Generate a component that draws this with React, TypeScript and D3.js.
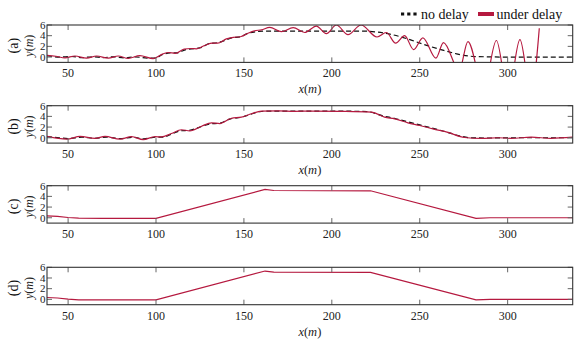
import React from 'react';
import * as d3 from 'd3';

const W = 580;
const H = 343;

// shared axis settings
const xDomain: [number, number] = [38, 337];
const yDomain: [number, number] = [-1, 6];
const xTicks = [50, 100, 150, 200, 250, 300];
const yTicks = [0, 2, 4, 6];
const panelNames = ['(a)', '(b)', '(c)', '(d)'];
const legendLabels = ['no delay', 'under delay'];

type Pt = [number, number];

// (a) no delay
const aNoDelay: Pt[] = [
  [38, 0.25], [45, 0.0], [52, 0.1], [58, -0.1], [64, 0.05], [70, -0.1], [76, 0.05],
  [82, -0.15], [88, 0.05], [95, -0.2], [99, -0.2], [104, 0.5], [108, 0.8], [112, 0.8],
  [117, 1.4], [122, 1.6], [126, 1.8], [130, 2.5], [135, 2.7], [139, 3.1], [143, 3.6],
  [148, 3.8], [152, 4.4], [157, 4.75], [162, 4.85], [170, 4.85], [190, 4.85], [210, 4.85],
  [219, 4.85], [225, 4.7], [233, 4.3], [243, 3.4], [252, 2.4], [262, 1.4], [271, 0.6],
  [279, 0.15], [287, 0.05], [300, 0.0], [337, 0.0],
];

// (a) under delay
const aUnderDelay: Pt[] = [
  [38, 0.3], [43, 0.15], [48.2, -0.15], [53.9, 0.2], [60.5, -0.2], [66.2, 0.2], [72.8, -0.2],
  [78.5, 0.2], [84.2, -0.25], [90.8, 0.25], [98.4, -0.3], [104, 0.6], [107, 0.85], [111, 0.7],
  [116, 1.5], [120, 1.6], [123, 1.55], [128, 2.2], [132, 2.6], [135, 2.6], [140, 3.4],
  [144, 3.7], [148, 3.8], [152, 4.4], [156, 4.9], [160, 5.1], [164.7, 5.55], [171.3, 4.75],
  [178, 5.5], [184.6, 4.6], [191.2, 5.8], [196.9, 4.4], [202.6, 6.0], [209.2, 4.2],
  [216.6, 6.0], [225.7, 3.75], [231, 4.6], [236.3, 2.6], [241.4, 4.0], [246.5, 1.4],
  [251.8, 3.6], [259.2, -0.2], [263.5, 2.7], [272.5, -2.5], [277.4, 2.9], [286.4, -6],
  [293.6, 3.1], [300.3, -7], [307, 3.25], [313.3, -7], [318, 5.4],
];

// (b) no delay
const bNoDelay: Pt[] = [
  [38, 0.2], [45, 0.0], [50, -0.15], [58, 0.1], [65, -0.1], [72, 0.1], [80, -0.15],
  [87, 0.1], [93, -0.2], [100, 0.1], [104, 0.1], [109, 0.7], [114, 1.3], [119, 1.4],
  [125, 2.0], [131, 2.6], [136, 2.7], [142, 3.5], [148, 3.8], [154, 4.4], [159, 4.9],
  [165, 5.0], [180, 5.0], [200, 5.0], [220, 4.9], [229, 4.1], [236, 3.6], [243, 3.0],
  [250, 2.4], [257, 1.8], [265, 1.1], [272, 0.4], [279, 0.0], [290, -0.05], [300, 0.0],
  [320, 0.0], [337, 0.0],
];

// (b) under delay
const bUnderDelay: Pt[] = [
  [38, 0.25], [49.2, -0.27], [56.8, 0.25], [65.3, -0.1], [71, 0.25], [79.5, -0.27],
  [86.1, 0.2], [92.7, -0.35], [99.4, 0.2], [103, 0.15], [108.8, 0.8], [114.5, 1.5],
  [119.2, 1.3], [125.9, 2.15], [131.6, 2.8], [136.3, 2.65], [142.9, 3.65], [148.6, 3.85],
  [154.3, 4.5], [160, 5.0], [169.5, 5.05], [179, 4.95], [188.4, 5.0], [205, 4.95],
  [222.5, 4.8], [230, 3.85], [235.7, 3.55], [243.3, 2.8], [250, 2.3], [257.5, 1.65],
  [266, 1.0], [275.5, 0.05], [285, -0.13], [294.5, 0.0], [302, -0.1], [313.4, 0.1],
  [324.7, -0.1], [337, 0.1],
];

// (c) under delay
const cUnderDelay: Pt[] = [
  [38, 0.35], [44, 0.25], [50, 0.05], [56, -0.08], [70, -0.1], [100, -0.1], [162, 5.3],
  [167, 5.1], [222, 5.05], [282, -0.1], [290, 0.0], [337, 0.0],
];

// (d) under delay
const dUnderDelay: Pt[] = [
  [38, 0.35], [44, 0.25], [50, 0.05], [56, -0.08], [70, -0.1], [100, -0.1], [162, 5.3],
  [167, 5.1], [222, 5.05], [282, -0.1], [290, 0.0], [337, 0.0],
];

const RED = '#b5193f';
const FONT = '"Liberation Serif", "Times New Roman", Times, serif';

const left = 47;
const right = 572.7;
const panelH = 37.4;
const panelTops = [25, 105.7, 185.7, 267.3];

const panels = [
  { noDelay: aNoDelay, underDelay: aUnderDelay, xLabel: true, smooth: true },
  { noDelay: bNoDelay, underDelay: bUnderDelay, xLabel: true, smooth: true },
  { noDelay: null, underDelay: cUnderDelay, xLabel: false, smooth: false },
  { noDelay: null, underDelay: dUnderDelay, xLabel: true, smooth: false },
];

function Panel({ idx }: { idx: number }) {
  const top = panelTops[idx];
  const p = panels[idx];
  const x = d3.scaleLinear().domain(xDomain).range([left, right]);
  const y = d3.scaleLinear().domain(yDomain).range([top + panelH, top]);
  const line = d3
    .line<Pt>()
    .x((d) => x(d[0]))
    .y((d) => y(d[1]))
    .curve(p.smooth ? d3.curveMonotoneX : d3.curveLinear);
  const clipId = `clip-${idx}`;
  const midY = top + panelH / 2;
  const tickLen = 5;

  return (
    <g>
      <defs>
        <clipPath id={clipId}>
          <rect x={left} y={top} width={right - left} height={panelH} />
        </clipPath>
      </defs>
      <g clipPath={`url(#${clipId})`}>
        {p.noDelay && (
          <path d={line(p.noDelay) || ''} fill="none" stroke="#111" strokeWidth={1.2} strokeDasharray="5,3" />
        )}
        <path d={line(p.underDelay) || ''} fill="none" stroke={RED} strokeWidth={1.2} />
      </g>
      {/* ticks, inside on every side */}
      {xTicks.map((t) => (
        <g key={t} stroke="#666" strokeWidth={1}>
          <line x1={x(t)} x2={x(t)} y1={top + panelH} y2={top + panelH - tickLen} />
          <line x1={x(t)} x2={x(t)} y1={top} y2={top + tickLen} />
        </g>
      ))}
      {yTicks.map((t) => (
        <g key={t} stroke="#666" strokeWidth={1}>
          <line x1={left} x2={left + tickLen} y1={y(t)} y2={y(t)} />
          <line x1={right} x2={right - tickLen} y1={y(t)} y2={y(t)} />
        </g>
      ))}
      <rect x={left} y={top} width={right - left} height={panelH} fill="none" stroke="#333" strokeWidth={1.1} />
      {/* tick labels */}
      {xTicks.map((t) => (
        <text key={t} x={x(t)} y={top + panelH + 15} textAnchor="middle" fontSize={12} fill="#222">
          {t}
        </text>
      ))}
      {yTicks.map((t) => (
        <text key={t} x={45.5} y={y(t) + 3.8} textAnchor="end" fontSize={11} fill="#222">
          {t}
        </text>
      ))}
      {/* y label and panel name */}
      <text transform={`translate(33,${midY + 2}) rotate(-90)`} textAnchor="middle" fontSize={12} fill="#222">
        <tspan fontStyle="italic">y</tspan>(<tspan fontStyle="italic">m</tspan>)
      </text>
      <text transform={`translate(18,${midY + 2}) rotate(-90)`} textAnchor="middle" fontSize={14} fill="#111">
        {panelNames[idx]}
      </text>
      {p.xLabel && (
        <text x={(left + right) / 2} y={top + panelH + 31} textAnchor="middle" fontSize={12.5} fill="#222">
          <tspan fontStyle="italic">x</tspan>(<tspan fontStyle="italic">m</tspan>)
        </text>
      )}
    </g>
  );
}

export default function App() {
  return (
    <svg
      width={W}
      height={H}
      fontFamily={FONT}
      style={{ position: 'absolute', left: 0, top: 0, background: '#fff' }}
    >
      <rect width={W} height={H} fill="#fff" />
      {panels.map((_, i) => (
        <Panel key={i} idx={i} />
      ))}
      {/* legend */}
      <line x1={401} x2={419} y1={14} y2={14} stroke="#111" strokeWidth={3} strokeDasharray="3.2,3" />
      <text x={421} y={18.5} fontSize={14} fill="#111">
        {legendLabels[0]}
      </text>
      <line x1={478} x2={494} y1={14} y2={14} stroke={RED} strokeWidth={4} />
      <text x={496.5} y={18.5} fontSize={14} fill="#111">
        {legendLabels[1]}
      </text>
    </svg>
  );
}
